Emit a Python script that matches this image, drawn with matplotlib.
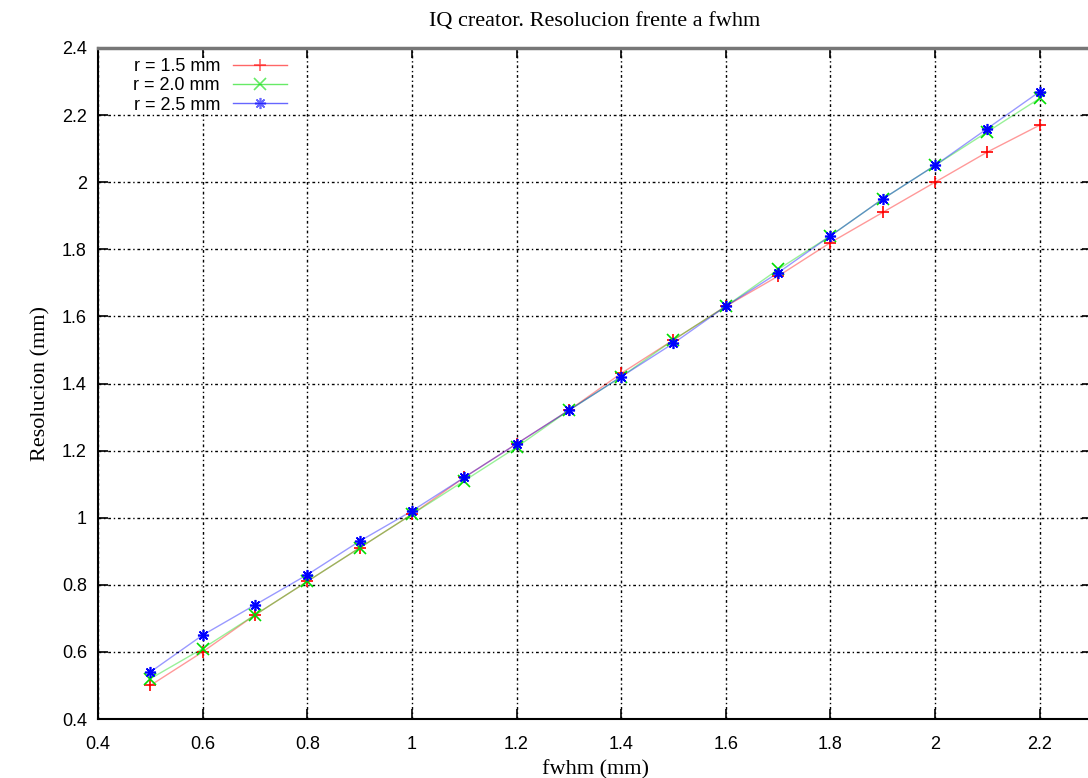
import numpy as np
import matplotlib.pyplot as plt
from matplotlib.ticker import FixedLocator

# fwhm values (mm)
fwhm = [0.5, 0.6, 0.7, 0.8, 0.9, 1.0, 1.1, 1.2, 1.3, 1.4, 1.5, 1.6, 1.7, 1.8, 1.9, 2.0, 2.1, 2.2]

# resolution for each radius
res_r15 = [0.50, 0.60, 0.71, 0.81, 0.91, 1.01, 1.12, 1.22, 1.32, 1.43, 1.53, 1.63, 1.72, 1.82, 1.91, 2.00, 2.09, 2.17]
res_r20 = [0.52, 0.61, 0.71, 0.81, 0.91, 1.01, 1.11, 1.21, 1.32, 1.42, 1.53, 1.63, 1.74, 1.84, 1.95, 2.05, 2.15, 2.25]
res_r25 = [0.54, 0.65, 0.74, 0.83, 0.93, 1.02, 1.12, 1.22, 1.32, 1.42, 1.52, 1.63, 1.73, 1.84, 1.95, 2.05, 2.16, 2.27]

labels = ['r = 1.5 mm', 'r = 2.0 mm', 'r = 2.5 mm']
xticks = [0.4, 0.6, 0.8, 1.0, 1.2, 1.4, 1.6, 1.8, 2.0, 2.2]
xtick_labels = ['0.4', '0.6', '0.8', '1', '1.2', '1.4', '1.6', '1.8', '2', '2.2']
yticks = [0.4, 0.6, 0.8, 1.0, 1.2, 1.4, 1.6, 1.8, 2.0, 2.2, 2.4]
ytick_labels = ['0.4', '0.6', '0.8', '1', '1.2', '1.4', '1.6', '1.8', '2', '2.2', '2.4']

W, H = 1088, 778
fig = plt.figure(figsize=(W / 100, H / 100), dpi=100)
# right edge of the axes lies just outside the picture, as in the reference
ax = fig.add_axes([98 / W, 1 - 719 / H, (1092 - 98) / W, (719 - 48) / H])

star = (8, 2, 0)
series = [
    (res_r15, 'red', '+', labels[0]),
    (res_r20, '#00dd00', 'x', labels[1]),
    (res_r25, 'blue', star, labels[2]),
]
for ys, col, mk, lab in series:
    ax.plot(fwhm, ys, color=col, lw=1.0, alpha=0.4, zorder=3)
    ax.plot(fwhm, ys, ls='none', marker=mk, color=col, ms=8, mew=1.2, zorder=4)
    # legend proxy
    ax.plot([], [], color=col, lw=1.0, marker=mk, ms=8, mew=1.2, label=lab)

leg = ax.legend(loc='upper left', bbox_to_anchor=(0.032, 0.99), frameon=True,
                facecolor='white', edgecolor='none', framealpha=1.0, fancybox=False,
                markerfirst=False, handlelength=3.0, handletextpad=0.7,
                labelspacing=0.12, borderaxespad=0.2, borderpad=0.0,
                prop={'family': 'Liberation Sans', 'size': 13})
for line in leg.get_lines():
    line.set_alpha(0.6)

ax.set_xlim(0.4, 2.3)
ax.set_ylim(0.4, 2.4)
ax.xaxis.set_major_locator(FixedLocator(xticks))
ax.yaxis.set_major_locator(FixedLocator(yticks))
ax.set_xticklabels(xtick_labels)
ax.set_yticklabels(ytick_labels)
for t in ax.get_xticklabels() + ax.get_yticklabels():
    t.set_family('Liberation Sans')
    t.set_fontsize(13)

ax.tick_params(direction='in', length=7, width=1.2, top=True, right=True)
ax.tick_params(axis='x', pad=12)
ax.tick_params(axis='y', pad=8)
ax.grid(True, color='black', ls=(0, (2, 2, 1, 2)), lw=1.0)
ax.set_axisbelow(True)
for side in ['left', 'bottom', 'top', 'right']:
    ax.spines[side].set_linewidth(1.5)
ax.spines['top'].set_color('#777777')
ax.spines['top'].set_linewidth(2.5)

ax.set_title('IQ creator. Resolucion frente a fwhm', family='Liberation Serif',
             fontsize=16, pad=16)
ax.set_xlabel('fwhm (mm)', family='Liberation Serif', fontsize=16, labelpad=5)
ax.set_ylabel('Resolucion (mm)', family='Liberation Serif', fontsize=16, labelpad=8)

fig.savefig('out.png', dpi=100)
